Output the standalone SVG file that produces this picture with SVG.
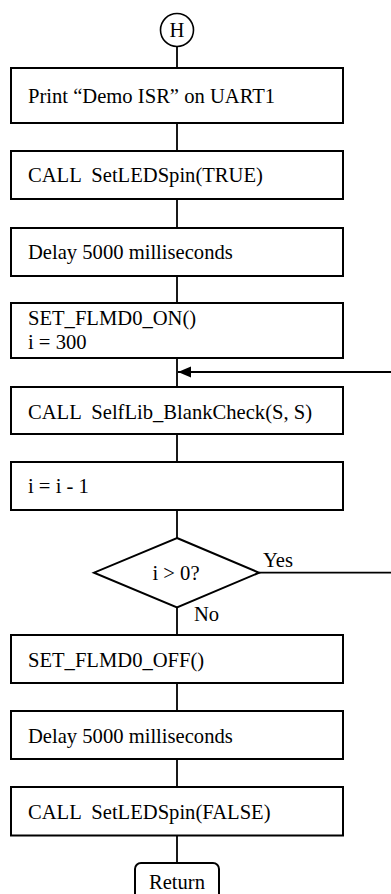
<svg xmlns="http://www.w3.org/2000/svg" width="391" height="894" viewBox="0 0 391 894">
  <style>
    .box { fill: #fff; stroke: #000; stroke-width: 2; }
    .wire { fill: none; stroke: #000; stroke-width: 1.8; }
    .lbl { font-family: "Liberation Serif", "Times New Roman", serif; font-size: 20.6px; fill: #000; }
    .mid { text-anchor: middle; }
  </style>
  <defs>
    <marker id="arrow" markerWidth="14" markerHeight="12" refX="13" refY="6" orient="auto" markerUnits="userSpaceOnUse">
      <path d="M0,0.5 L13,6 L0,11.5 Z" fill="#000"/>
    </marker>
  </defs>
  <rect width="391" height="894" fill="#fff"/>

  <!-- connectors -->
  <g id="connectors">
    <line class="wire" x1="177" y1="46.5" x2="177" y2="68"/>
    <line class="wire" x1="177" y1="123" x2="177" y2="151"/>
    <line class="wire" x1="177" y1="199" x2="177" y2="228"/>
    <line class="wire" x1="177" y1="276" x2="177" y2="303"/>
    <line class="wire" x1="177" y1="358" x2="177" y2="387"/>
    <line class="wire" x1="177" y1="434" x2="177" y2="462"/>
    <line class="wire" x1="177" y1="510" x2="177" y2="538"/>
    <line class="wire" x1="177" y1="607.5" x2="177" y2="635"/>
    <line class="wire" x1="177" y1="683" x2="177" y2="711"/>
    <line class="wire" x1="177" y1="759" x2="177" y2="787"/>
    <line class="wire" x1="177" y1="835.5" x2="177" y2="863"/>
    <!-- loop back on Yes -->
    <line class="wire" x1="259" y1="572.7" x2="392" y2="572.7"/>
    <line class="wire" x1="392" y1="372" x2="178" y2="372" marker-end="url(#arrow)"/>
  </g>

  <g id="start">
    <circle cx="177" cy="30" r="16.5" fill="#fff" stroke="#000" stroke-width="1.6"/>
    <text class="lbl mid" x="177" y="37">H</text>
  </g>

  <g id="print">
    <rect class="box" x="11" y="68" width="332" height="55"/>
    <text class="lbl" x="28" y="102.5">Print “Demo ISR” on UART1</text>
  </g>

  <g id="spin-on">
    <rect class="box" x="11" y="151" width="332" height="48"/>
    <text class="lbl" x="28" y="182" xml:space="preserve">CALL  SetLEDSpin(TRUE)</text>
  </g>

  <g id="delay1">
    <rect class="box" x="11" y="228" width="332" height="48"/>
    <text class="lbl" x="28" y="259">Delay 5000 milliseconds</text>
  </g>

  <g id="flmd-on">
    <rect class="box" x="11" y="303" width="332" height="55"/>
    <text class="lbl" x="28" y="325">SET_FLMD0_ON()</text>
    <text class="lbl" x="28" y="349">i = 300</text>
  </g>

  <g id="blank-check">
    <rect class="box" x="11" y="387" width="332" height="47"/>
    <text class="lbl" x="28" y="419" xml:space="preserve">CALL  SelfLib_BlankCheck(S, S)</text>
  </g>

  <g id="decrement">
    <rect class="box" x="11" y="462" width="332" height="48"/>
    <text class="lbl" x="28" y="493">i = i - 1</text>
  </g>

  <g id="test">
    <polygon class="box" points="177,538 259,572.7 177,607.5 94,572.7"/>
    <text class="lbl mid" x="176" y="580">i &gt; 0?</text>
    <text class="lbl" x="263" y="566.5">Yes</text>
    <text class="lbl" x="194" y="621">No</text>
  </g>

  <g id="flmd-off">
    <rect class="box" x="11" y="635" width="332" height="48"/>
    <text class="lbl" x="28" y="667">SET_FLMD0_OFF()</text>
  </g>

  <g id="delay2">
    <rect class="box" x="11" y="711" width="332" height="48"/>
    <text class="lbl" x="28" y="743">Delay 5000 milliseconds</text>
  </g>

  <g id="spin-off">
    <rect class="box" x="11" y="787" width="332" height="48.5"/>
    <text class="lbl" x="28" y="819" xml:space="preserve">CALL  SetLEDSpin(FALSE)</text>
  </g>

  <g id="return">
    <rect class="box" x="135" y="863" width="84" height="40" rx="6"/>
    <text class="lbl mid" x="177" y="889">Return</text>
  </g>
</svg>
